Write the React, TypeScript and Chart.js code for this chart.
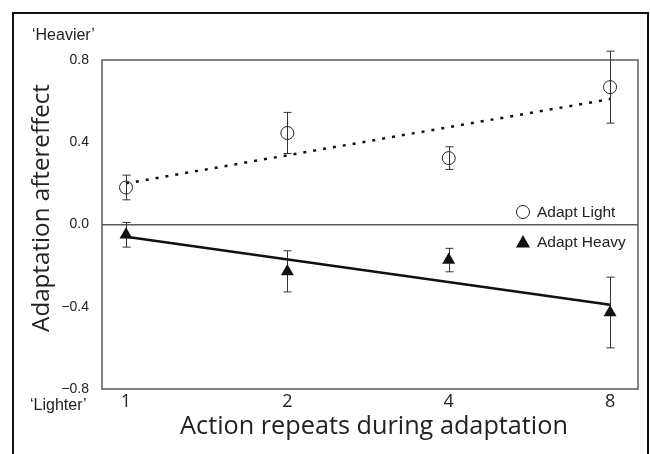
import React, { useEffect, useRef } from "react";
import { Chart, registerables } from "chart.js";

Chart.register(...registerables);

// ---- data ----
const repeats = [1, 2, 4, 8];
const tickLabels = ["1", "2", "4", "8"];
const yTickLabels = ["−0.8", "−0.4", "0.0", "0.4", "0.8"];
const lightMean = [0.18, 0.445, 0.323, 0.668];
const lightErr = [0.06, 0.1, 0.055, 0.175];
const heavyMean = [-0.05, -0.228, -0.173, -0.428];
const heavyErr = [0.06, 0.1, 0.057, 0.172];
const fitX = [1, 8];
const lightFit = [0.2, 0.61];
const heavyFit = [-0.06, -0.39];

const seriesNames = ["Adapt Light", "Adapt Heavy"];
const xTitle = "Action repeats during adaptation";
const yTitle = "Adaptation aftereffect";
const topNote = "\u2018Heavier\u2019";
const bottomNote = "\u2018Lighter\u2019";

const SANS = "'Liberation Sans', Arial, sans-serif";
const MYRIAD = "'Open Sans', 'Noto Sans', sans-serif";

function fitFont(ctx: CanvasRenderingContext2D, text: string, family: string, base: number, target: number) {
  ctx.font = `${base}px ${family}`;
  const w = ctx.measureText(text).width;
  const size = Math.min(base, (base * target) / w);
  return `${size}px ${family}`;
}

const decor = {
  id: "decor",
  beforeDatasetsDraw(chart: any) {
    const { ctx, chartArea, scales } = chart;
    const { left, top, right, bottom } = chartArea;
    ctx.save();
    // plot frame
    ctx.strokeStyle = "#5a5a5a";
    ctx.lineWidth = 1.5;
    ctx.strokeRect(left, top, right - left, bottom - top);
    // error bars
    const xs = scales.x;
    const ys = scales.y;
    ctx.strokeStyle = "#333";
    ctx.lineWidth = 1;
    const drawErr = (means: number[], errs: number[]) => {
      means.forEach((m, i) => {
        const x = Math.round(xs.getPixelForValue(repeats[i])) + 0.5;
        const y1 = ys.getPixelForValue(m + errs[i]);
        const y2 = ys.getPixelForValue(m - errs[i]);
        ctx.beginPath();
        ctx.moveTo(x, y1);
        ctx.lineTo(x, y2);
        ctx.moveTo(x - 4, y1);
        ctx.lineTo(x + 4, y1);
        ctx.moveTo(x - 4, y2);
        ctx.lineTo(x + 4, y2);
        ctx.stroke();
      });
    };
    drawErr(lightMean, lightErr);
    drawErr(heavyMean, heavyErr);
    ctx.restore();
  },
  afterDraw(chart: any) {
    const { ctx, chartArea } = chart;
    const { left, top, right } = chartArea;
    ctx.save();
    // outer frame
    ctx.strokeStyle = "#111";
    ctx.lineWidth = 2;
    ctx.strokeRect(13, 13, 635, 470);

    ctx.fillStyle = "#222";
    // corner notes
    ctx.font = `16px ${SANS}`;
    ctx.textAlign = "left";
    ctx.textBaseline = "alphabetic";
    ctx.fillText(topNote, 32, 40);
    ctx.fillText(bottomNote, 30, 410);

    // x title
    ctx.font = fitFont(ctx, xTitle, MYRIAD, 26, 388);
    ctx.textAlign = "center";
    ctx.textBaseline = "middle";
    ctx.fillText(xTitle, (left + right) / 2 + 4, 427);

    // y title
    ctx.save();
    ctx.translate(42, 208);
    ctx.rotate(-Math.PI / 2);
    ctx.font = fitFont(ctx, yTitle, MYRIAD, 26, 248);
    ctx.fillText(yTitle, 0, 0);
    ctx.restore();

    // legend
    const lx = right - 115;
    ctx.font = `15.5px ${SANS}`;
    ctx.textAlign = "left";
    ctx.textBaseline = "middle";
    const ly1 = top + 152;
    const ly2 = top + 182;
    ctx.strokeStyle = "#222";
    ctx.lineWidth = 1;
    ctx.beginPath();
    ctx.arc(lx, ly1, 6.5, 0, Math.PI * 2);
    ctx.stroke();
    ctx.fillText(seriesNames[0], lx + 14, ly1 + 1);
    ctx.fillStyle = "#111";
    ctx.beginPath();
    ctx.moveTo(lx, ly2 - 7);
    ctx.lineTo(lx + 7, ly2 + 5.5);
    ctx.lineTo(lx - 7, ly2 + 5.5);
    ctx.closePath();
    ctx.fill();
    ctx.fillStyle = "#222";
    ctx.fillText(seriesNames[1], lx + 14, ly2 + 1);
    ctx.restore();
  },
};

export default function App() {
  const ref = useRef<HTMLCanvasElement>(null);
  useEffect(() => {
    document.body.style.margin = "0";
    const canvas = ref.current!;
    const chart = new Chart(canvas, {
      type: "scatter",
      data: {
        datasets: [
          {
            label: seriesNames[0],
            data: repeats.map((r, i) => ({ x: r, y: lightMean[i] })),
            pointStyle: "circle",
            pointRadius: 6.5,
            pointBorderWidth: 1,
            pointBorderColor: "#222",
            pointBackgroundColor: "rgba(0,0,0,0)",
            showLine: false,
            order: 1,
          },
          {
            label: seriesNames[1],
            data: repeats.map((r, i) => ({ x: r, y: heavyMean[i] })),
            pointStyle: "triangle",
            pointRadius: 7.5,
            pointBorderWidth: 0,
            pointBackgroundColor: "#111",
            pointBorderColor: "#111",
            showLine: false,
            order: 1,
          },
          {
            label: "light fit",
            data: fitX.map((x, i) => ({ x, y: lightFit[i] })),
            showLine: true,
            borderColor: "#111",
            borderWidth: 2.5,
            borderDash: [3, 7],
            pointRadius: 0,
            order: 2,
          },
          {
            label: "heavy fit",
            data: fitX.map((x, i) => ({ x, y: heavyFit[i] })),
            showLine: true,
            borderColor: "#111",
            borderWidth: 2.5,
            pointRadius: 0,
            order: 2,
          },
        ],
      },
      options: {
        animation: false,
        responsive: false,
        events: [],
        layout: { padding: { left: 0, top: 60, right: 12, bottom: 0 } },
        plugins: { legend: { display: false }, tooltip: { enabled: false }, title: { display: false } },
        scales: {
          x: {
            type: "logarithmic",
            min: 0.902,
            max: 9.02,
            afterBuildTicks: (s: any) => {
              s.ticks = repeats.map((v) => ({ value: v }));
            },
            afterFit: (s: any) => {
              s.height = 65;
            },
            ticks: {
              autoSkip: false,
              maxRotation: 0,
              padding: 2,
              color: "#222",
              font: { family: MYRIAD, size: 18 },
              callback: (v: any, i: number) => tickLabels[i],
            },
            grid: { display: false, drawTicks: false },
            border: { display: false },
          },
          y: {
            min: -0.8,
            max: 0.8,
            afterBuildTicks: (s: any) => {
              s.ticks = [-0.8, -0.4, 0, 0.4, 0.8].map((v) => ({ value: v }));
            },
            afterFit: (s: any) => {
              s.width = 102;
            },
            ticks: {
              padding: 13,
              color: "#222",
              font: { family: SANS, size: 14 },
              callback: (v: any, i: number) => yTickLabels[i],
            },
            grid: {
              drawTicks: false,
              lineWidth: 1.5,
              color: (c: any) => (c.tick && c.tick.value === 0 ? "#5a5a5a" : "rgba(0,0,0,0)"),
            },
            border: { display: false },
          },
        },
      },
      plugins: [decor],
    } as any);
    return () => chart.destroy();
  }, []);
  return (
    <div style={{ width: 650, height: 454, background: "#fff" }}>
      <canvas ref={ref} width={650} height={454} style={{ display: "block" }} />
    </div>
  );
}
